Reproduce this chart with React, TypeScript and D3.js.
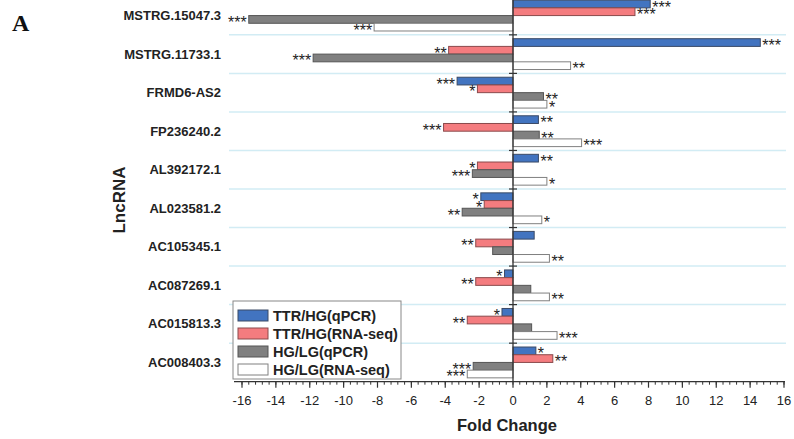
import React, { useRef, useEffect } from 'react';
import * as d3 from 'd3';

const genes = [
  'MSTRG.15047.3', 'MSTRG.11733.1', 'FRMD6-AS2', 'FP236240.2', 'AL392172.1',
  'AL023581.2', 'AC105345.1', 'AC087269.1', 'AC015813.3', 'AC008403.3',
];
const seriesNames = ['TTR/HG(qPCR)', 'TTR/HG(RNA-seq)', 'HG/LG(qPCR)', 'HG/LG(RNA-seq)'];
const ttrQpcr = [8.1, 14.6, -3.3, 1.5, 1.5, -1.9, 1.25, -0.5, -0.65, 1.35];
const ttrSeq = [7.2, -3.8, -2.1, -4.1, -2.1, -1.7, -2.2, -2.2, -2.7, 2.35];
const hgQpcr = [-15.6, -11.8, 1.8, 1.55, -2.4, -3.0, -1.2, 1.05, 1.1, -2.35];
const hgSeq = [-8.2, 3.4, 2.0, 4.05, 2.0, 1.7, 2.15, 2.15, 2.6, -2.7];
const ttrQpcrSig = ['***', '***', '***', '**', '**', '*', '', '*', '*', '*'];
const ttrSeqSig = ['***', '**', '*', '***', '*', '*', '**', '**', '**', '**'];
const hgQpcrSig = ['***', '***', '**', '**', '***', '**', '', '', '', '***'];
const hgSeqSig = ['***', '**', '*', '***', '*', '*', '**', '**', '***', '***'];
const xTicks = d3.range(-16, 17, 2);

const fills = ['#4274c0', '#f47c7f', '#808080', '#ffffff'];
const strokes = ['#3a4a66', '#8a4a4c', '#555555', '#808080'];

const App: React.FC = () => {
  const svgRef = useRef<SVGSVGElement>(null);

  useEffect(() => {
    document.body.style.margin = '0';
    const svg = d3.select(svgRef.current);
    svg.selectAll('*').remove();

    const font = "'Liberation Sans', Arial, sans-serif";
    const x = d3.scaleLinear().domain([-16, 16]).range([242, 784]);
    const y = d3.scaleBand<string>().domain(genes).range([-3.7, 381.7]);
    const bw = y.bandwidth();
    const axisY = 381.7;

    const values = [ttrQpcr, ttrSeq, hgQpcr, hgSeq];
    const sigs = [ttrQpcrSig, ttrSeqSig, hgQpcrSig, hgSeqSig];
    const barY = (i: number, si: number) => y(genes[i])! + bw * 0.1 + si * bw * 0.2;

    // separators
    svg.append('g')
      .selectAll('line')
      .data(genes.slice(1))
      .join('line')
      .attr('x1', 229)
      .attr('x2', 786)
      .attr('y1', d => y(d)!)
      .attr('y2', d => y(d)!)
      .attr('stroke', '#d2ecf4')
      .attr('stroke-width', 1.5);

    // bars
    values.forEach((vals, si) => {
      svg.append('g')
        .selectAll('rect')
        .data(vals)
        .join('rect')
        .attr('x', d => Math.min(x(0), x(d)))
        .attr('width', d => Math.abs(x(d) - x(0)))
        .attr('y', (d, i) => barY(i, si))
        .attr('height', bw * 0.2)
        .attr('fill', fills[si])
        .attr('stroke', strokes[si])
        .attr('stroke-width', 1);
    });

    // significance stars, on top of the bars
    values.forEach((vals, si) => {
      svg.append('g')
        .selectAll('text')
        .data(vals)
        .join('text')
        .attr('x', d => (d >= 0 ? x(d) + 2 : x(d) - 2))
        .attr('y', (d, i) => barY(i, si) + bw * 0.1 + 8.5)
        .attr('text-anchor', d => (d >= 0 ? 'start' : 'end'))
        .attr('font-family', font)
        .attr('font-size', 16)
        .attr('fill', '#222')
        .text((d, i) => sigs[si][i]);
    });

    // zero line
    svg.append('line')
      .attr('x1', x(0)).attr('x2', x(0))
      .attr('y1', 0).attr('y2', axisY)
      .attr('stroke', '#333').attr('stroke-width', 1.3);

    svg.append('g')
      .selectAll('line')
      .data(genes.slice(1))
      .join('line')
      .attr('x1', x(0) - 4).attr('x2', x(0) + 4)
      .attr('y1', d => y(d)!).attr('y2', d => y(d)!)
      .attr('stroke', '#333').attr('stroke-width', 1.2);

    // x axis
    const axis = svg.append('g').attr('transform', `translate(0,${axisY})`);
    axis.append('line')
      .attr('x1', 234).attr('x2', 785)
      .attr('stroke', '#333').attr('stroke-width', 1.3);
    axis.selectAll('line.minor')
      .data(d3.range(-16, 16.01, 0.4))
      .join('line')
      .attr('class', 'minor')
      .attr('x1', d => x(d)).attr('x2', d => x(d))
      .attr('y1', 0).attr('y2', 3)
      .attr('stroke', '#333').attr('stroke-width', 1);
    axis.selectAll('line.major')
      .data(xTicks)
      .join('line')
      .attr('class', 'major')
      .attr('x1', d => x(d)).attr('x2', d => x(d))
      .attr('y1', 0).attr('y2', 6)
      .attr('stroke', '#333').attr('stroke-width', 1.2);
    axis.selectAll('text')
      .data(xTicks)
      .join('text')
      .attr('x', d => x(d))
      .attr('y', 23)
      .attr('text-anchor', 'middle')
      .attr('font-family', font)
      .attr('font-size', 13)
      .attr('fill', '#222')
      .text(d => String(d));

    svg.append('text')
      .attr('x', 507)
      .attr('y', 431)
      .attr('text-anchor', 'middle')
      .attr('font-family', font)
      .attr('font-weight', 'bold')
      .attr('font-size', 16.5)
      .attr('fill', '#222')
      .text('Fold Change');

    // category labels
    svg.append('g')
      .selectAll('text')
      .data(genes)
      .join('text')
      .attr('x', 221)
      .attr('y', d => y(d)! + bw / 2 + 4.5)
      .attr('text-anchor', 'end')
      .attr('font-family', font)
      .attr('font-weight', 'bold')
      .attr('font-size', 13)
      .attr('fill', '#222')
      .text(d => d);

    svg.append('text')
      .attr('transform', 'translate(125,200) rotate(-90)')
      .attr('text-anchor', 'middle')
      .attr('font-family', font)
      .attr('font-weight', 'bold')
      .attr('font-size', 17)
      .attr('fill', '#222')
      .text('LncRNA');

    svg.append('text')
      .attr('x', 12)
      .attr('y', 31)
      .attr('font-family', "'Liberation Serif', 'Times New Roman', serif")
      .attr('font-weight', 'bold')
      .attr('font-size', 24)
      .attr('fill', '#111')
      .text('A');

    // legend
    const legend = svg.append('g').attr('transform', 'translate(233,301)');
    legend.append('rect')
      .attr('width', 168).attr('height', 78)
      .attr('fill', '#fff').attr('stroke', '#888').attr('stroke-width', 1);
    seriesNames.forEach((name, i) => {
      legend.append('rect')
        .attr('x', 5).attr('y', 9 + i * 18)
        .attr('width', 30).attr('height', 11)
        .attr('fill', fills[i]).attr('stroke', strokes[i]);
      legend.append('text')
        .attr('x', 40).attr('y', 20 + i * 18)
        .attr('font-family', font)
        .attr('font-weight', 'bold')
        .attr('font-size', 14.5)
        .attr('fill', '#222')
        .text(name);
    });
  }, []);

  return <svg ref={svgRef} width={794} height={439} style={{ display: 'block' }} />;
};

export default App;
